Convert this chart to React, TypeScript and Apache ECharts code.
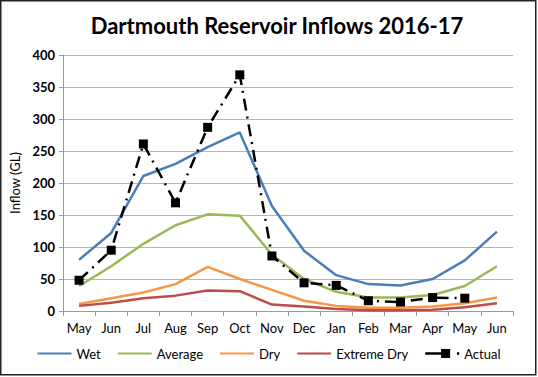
import React, { useEffect, useRef } from "react";
import * as echarts from "echarts";

const categories = ["May", "Jun", "Jul", "Aug", "Sep", "Oct", "Nov", "Dec", "Jan", "Feb", "Mar", "Apr", "May", "Jun"];
const wet = [80, 122, 211, 230, 256, 279, 164, 94, 56, 42, 40, 50, 79, 124];
const average = [39, 70, 105, 134, 151, 149, 88, 50, 30, 21, 21, 25, 39, 70];
const dry = [11, 20, 29, 42, 69, 50, 33, 16, 8, 5, 5, 7, 12, 21];
const extremeDry = [8, 13, 20, 24, 32, 31, 10, 7, 3, 1, 1, 2, 6, 12];
const actual: (number | null)[] = [48, 95, 261, 169, 287, 369, 86, 44, 40, 16, 14, 21, 20, null];
const yTicks = { min: 0, max: 400, interval: 50 };

const FONT = "Lato";

export default function App() {
  const ref = useRef<HTMLDivElement>(null);
  useEffect(() => {
    if (!ref.current) return;
    const chart = echarts.init(ref.current, null, { renderer: "svg" });
    const lineSeries = (name: string, data: (number | null)[], color: string) => ({
      name,
      type: "line",
      data,
      symbol: "none",
      lineStyle: { color, width: 2.5 },
      itemStyle: { color },
      z: 2,
    });
    chart.setOption({
      animation: false,
      backgroundColor: "#ffffff",
      title: {
        text: "Dartmouth Reservoir Inflows 2016-17",
        left: 272,
        top: 9,
        textAlign: "center",
        textStyle: { fontFamily: FONT, fontSize: 22, fontWeight: "bold", color: "#000" },
      },
      graphic: [
        {
          type: "rect",
          shape: { x: 0.75, y: 0.75, width: 535, height: 374 },
          style: { fill: "none", stroke: "#222", lineWidth: 1.5 },
          silent: true,
        },
      ],
      grid: { left: 63, right: 25, top: 55, bottom: 66 },
      xAxis: {
        type: "category",
        data: categories,
        boundaryGap: true,
        axisLine: { lineStyle: { color: "#9a9a9a", width: 1 } },
        axisTick: { show: true, length: 5, lineStyle: { color: "#9a9a9a" }, alignWithLabel: false },
        axisLabel: { fontFamily: FONT, fontSize: 13, color: "#000", margin: 10, interval: 0 },
      },
      yAxis: {
        type: "value",
        min: yTicks.min,
        max: yTicks.max,
        interval: yTicks.interval,
        name: "Inflow (GL)",
        nameLocation: "middle",
        nameGap: 36,
        nameTextStyle: { fontFamily: FONT, fontSize: 13, color: "#000" },
        axisLine: { show: true, lineStyle: { color: "#9a9a9a", width: 1 } },
        axisTick: { show: true, length: 4, lineStyle: { color: "#9a9a9a" } },
        axisLabel: { fontFamily: FONT, fontSize: 13, fontWeight: "bold", color: "#000", margin: 8 },
        splitLine: { lineStyle: { color: "#b5b5b5", width: 1 } },
      },
      legend: {
        bottom: 12,
        left: "center",
        itemWidth: 34,
        itemHeight: 10,
        itemGap: 17,
        textStyle: { fontFamily: FONT, fontSize: 13, color: "#000" },
        data: [
          { name: "Wet", icon: "path://M0,4 L34,4 L34,6 L0,6 Z", itemStyle: { color: "#4a7ebb" } },
          { name: "Average", icon: "path://M0,4 L34,4 L34,6 L0,6 Z", itemStyle: { color: "#98b954" } },
          { name: "Dry", icon: "path://M0,4 L34,4 L34,6 L0,6 Z", itemStyle: { color: "#f79646" } },
          { name: "Extreme Dry", icon: "path://M0,4 L34,4 L34,6 L0,6 Z", itemStyle: { color: "#be4b48" } },
          {
            name: "Actual",
            icon: "path://M0,4 L14,4 L14,6 L0,6 Z M14,1 L22,1 L22,9 L14,9 Z M28,4 L30,4 L30,6 L28,6 Z",
            itemStyle: { color: "#000" },
          },
        ],
      },
      series: [
        lineSeries("Wet", wet, "#4a7ebb"),
        lineSeries("Average", average, "#98b954"),
        lineSeries("Dry", dry, "#f79646"),
        lineSeries("Extreme Dry", extremeDry, "#be4b48"),
        {
          name: "Actual",
          type: "line",
          data: actual,
          symbol: "rect",
          symbolSize: 9,
          showSymbol: true,
          connectNulls: false,
          lineStyle: { color: "#000", width: 2.5, type: [12, 6, 2, 6] },
          itemStyle: { color: "#000" },
          z: 3,
        },
      ],
    });
    return () => chart.dispose();
  }, []);
  return (
    <div
      ref={ref}
      style={{ position: "fixed", left: 0, top: 0, width: 538, height: 377 }}
    />
  );
}
